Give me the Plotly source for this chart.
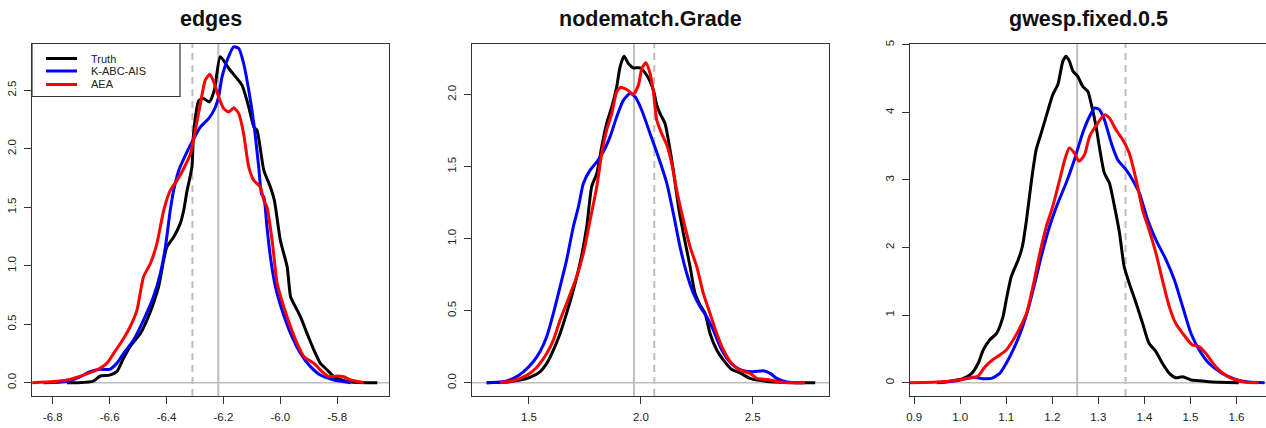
import plotly.graph_objects as go

W, H = 1266, 428

titles = ["edges", "nodematch.Grade", "gwesp.fixed.0.5"]
series_names = ["Truth", "K-ABC-AIS", "AEA"]
series_colors = ["#000000", "#0000FF", "#FF0000"]

# ---------- panel 1: edges ----------
edges_truth_x = [-6.75, -6.71, -6.657, -6.633, -6.6, -6.575, -6.551, -6.528, -6.492, -6.469, -6.446, -6.428, -6.41, -6.399,
                 -6.375, -6.352, -6.34, -6.328, -6.311, -6.305, -6.287, -6.27, -6.25, -6.232, -6.211, -6.181, -6.152, -6.134,
                 -6.111, -6.093, -6.082, -6.058, -6.035, -6.021, -6.0, -5.976, -5.964, -5.953, -5.929, -5.906, -5.882,
                 -5.859, -5.835, -5.812, -5.765, -5.694, -5.659]
edges_truth_y = [0.0, 0.0, 0.014, 0.057, 0.065, 0.094, 0.21, 0.31, 0.42, 0.535, 0.68, 0.82, 1.05, 1.16,
                 1.245, 1.36, 1.47, 1.64, 1.84, 2.13, 2.41, 2.43, 2.40, 2.50, 2.786, 2.686, 2.60, 2.54,
                 2.357, 2.186, 2.157, 1.815, 1.673, 1.559, 1.218, 0.99, 0.734, 0.677, 0.563, 0.42, 0.279,
                 0.165, 0.108, 0.051, 0.01, 0.0, 0.0]

edges_kabc_x = [-6.833, -6.751, -6.704, -6.669, -6.633, -6.6, -6.575, -6.551, -6.516, -6.481, -6.446, -6.422, -6.404,
                -6.387, -6.375, -6.357, -6.334, -6.311, -6.281, -6.252, -6.228, -6.217, -6.205, -6.187, -6.164, -6.146,
                -6.129, -6.111, -6.093, -6.076, -6.066, -6.058, -6.047, -6.035, -6.017, -5.994, -5.964, -5.929, -5.894,
                -5.859, -5.812, -5.753]
edges_kabc_y = [0.0, 0.009, 0.05, 0.094, 0.114, 0.114, 0.165, 0.25, 0.364, 0.535, 0.734, 0.933, 1.161,
                1.474, 1.644, 1.815, 1.943, 2.057, 2.186, 2.257, 2.357, 2.443, 2.614, 2.757, 2.871, 2.857,
                2.729, 2.5, 2.214, 1.843, 1.614, 1.587, 1.331, 1.075, 0.819, 0.62, 0.421, 0.25, 0.137,
                0.065, 0.023, 0.0]

edges_aea_x = [-6.872, -6.798, -6.751, -6.692, -6.645, -6.61, -6.586, -6.551, -6.528, -6.504, -6.481, -6.457, -6.434,
               -6.41, -6.387, -6.363, -6.34, -6.316, -6.299, -6.281, -6.264, -6.248, -6.234, -6.217, -6.199, -6.181,
               -6.164, -6.146, -6.129, -6.111, -6.093, -6.07, -6.058, -6.047, -6.029, -6.011, -5.988, -5.964, -5.941,
               -5.917, -5.882, -5.859, -5.829, -5.8, -5.777, -5.753, -5.706]
edges_aea_y = [0.0, 0.009, 0.023, 0.065, 0.108, 0.165, 0.25, 0.378, 0.478, 0.62, 0.905, 1.018, 1.189,
               1.474, 1.644, 1.73, 1.829, 1.957, 2.157, 2.386, 2.586, 2.637, 2.571, 2.443, 2.343, 2.314,
               2.351, 2.3, 2.129, 1.843, 1.729, 1.671, 1.557, 1.502, 1.218, 0.848, 0.649, 0.478, 0.336,
               0.222, 0.165, 0.108, 0.051, 0.057, 0.051, 0.023, 0.0]

# ---------- panel 2: nodematch.Grade ----------
grade_truth_x = [1.311, 1.4, 1.46, 1.504, 1.549, 1.579, 1.609, 1.639, 1.668, 1.698, 1.728, 1.758, 1.78, 1.803, 1.825,
                 1.847, 1.87, 1.892, 1.907, 1.925, 1.944, 1.966, 1.996, 2.026, 2.056, 2.071, 2.086, 2.108, 2.123,
                 2.145, 2.168, 2.19, 2.22, 2.242, 2.265, 2.287, 2.309, 2.339, 2.369, 2.406, 2.443, 2.488, 2.563,
                 2.652, 2.779]
grade_truth_y = [0.0, 0.005, 0.018, 0.037, 0.076, 0.134, 0.227, 0.342, 0.481, 0.643, 0.828, 1.082, 1.36, 1.452, 1.637,
                 1.799, 1.914, 2.053, 2.192, 2.266, 2.215, 2.185, 2.185, 2.134, 2.03, 1.926, 1.868, 1.799, 1.683,
                 1.475, 1.221, 1.036, 0.805, 0.62, 0.539, 0.481, 0.342, 0.227, 0.157, 0.092, 0.069, 0.03, 0.009,
                 0.002, 0.0]

grade_kabc_x = [1.311, 1.385, 1.43, 1.475, 1.519, 1.549, 1.579, 1.609, 1.639, 1.668, 1.698, 1.721, 1.743, 1.773, 1.803,
                1.832, 1.862, 1.892, 1.922, 1.952, 1.974, 2.004, 2.041, 2.078, 2.116, 2.145, 2.175, 2.205, 2.235,
                2.265, 2.294, 2.324, 2.354, 2.384, 2.421, 2.458, 2.503, 2.548, 2.578, 2.607, 2.652, 2.727]
grade_kabc_y = [0.0, 0.007, 0.03, 0.076, 0.146, 0.215, 0.319, 0.481, 0.666, 0.851, 1.082, 1.221, 1.383, 1.475, 1.533,
                1.602, 1.706, 1.845, 1.961, 2.007, 1.984, 1.891, 1.729, 1.568, 1.383, 1.175, 0.943, 0.758, 0.62,
                0.527, 0.458, 0.365, 0.25, 0.169, 0.111, 0.083, 0.076, 0.083, 0.065, 0.03, 0.005, 0.0]

grade_aea_x = [1.37, 1.43, 1.49, 1.534, 1.579, 1.609, 1.639, 1.668, 1.713, 1.743, 1.773, 1.803, 1.825, 1.847, 1.87,
               1.892, 1.91, 1.937, 1.966, 1.989, 2.004, 2.022, 2.041, 2.056, 2.071, 2.093, 2.116, 2.138, 2.16,
               2.19, 2.22, 2.25, 2.279, 2.309, 2.339, 2.369, 2.406, 2.443, 2.488, 2.518, 2.563, 2.607, 2.652, 2.734]
grade_aea_y = [0.0, 0.014, 0.051, 0.106, 0.203, 0.296, 0.435, 0.55, 0.735, 0.897, 1.128, 1.36, 1.591, 1.753, 1.868,
               2.018, 2.049, 2.035, 2.002, 2.065, 2.18, 2.22, 2.146, 2.018, 1.822, 1.729, 1.649, 1.521, 1.336,
               1.128, 0.943, 0.805, 0.62, 0.481, 0.342, 0.227, 0.134, 0.088, 0.065, 0.03, 0.023, 0.009, 0.0, 0.0]

# ---------- panel 3: gwesp.fixed.0.5 ----------
gwesp_truth_x = [0.956, 0.985, 1.007, 1.025, 1.039, 1.05, 1.064, 1.079, 1.093, 1.1, 1.111, 1.126, 1.135, 1.144, 1.155,
                 1.165, 1.176, 1.191, 1.201, 1.212, 1.223, 1.23, 1.237, 1.245, 1.255, 1.266, 1.277, 1.284, 1.295,
                 1.302, 1.313, 1.324, 1.335, 1.346, 1.356, 1.367, 1.382, 1.396, 1.41, 1.425, 1.439, 1.454, 1.468,
                 1.483, 1.501, 1.519, 1.54, 1.605]
gwesp_truth_y = [0.0, 0.03, 0.064, 0.138, 0.287, 0.484, 0.632, 0.731, 0.978, 1.225, 1.571, 1.818, 2.016, 2.411, 3.004,
                 3.449, 3.696, 4.041, 4.264, 4.412, 4.758, 4.832, 4.758, 4.61, 4.536, 4.387, 4.313, 4.14, 3.794,
                 3.498, 3.103, 2.955, 2.609, 2.213, 1.719, 1.472, 1.176, 0.879, 0.583, 0.459, 0.287, 0.138, 0.074,
                 0.089, 0.04, 0.03, 0.015, 0.0]

gwesp_kabc_x = [0.949, 0.992, 1.028, 1.05, 1.068, 1.086, 1.1, 1.115, 1.133, 1.147, 1.162, 1.176, 1.194, 1.212, 1.23,
                1.248, 1.266, 1.281, 1.292, 1.302, 1.313, 1.328, 1.342, 1.36, 1.374, 1.389, 1.407, 1.425, 1.447,
                1.465, 1.483, 1.501, 1.519, 1.54, 1.569, 1.598, 1.627, 1.661]
gwesp_kabc_y = [0.0, 0.03, 0.079, 0.059, 0.064, 0.138, 0.287, 0.484, 0.781, 1.077, 1.472, 1.868, 2.312, 2.658, 2.955,
                3.3, 3.696, 3.943, 4.066, 4.041, 3.893, 3.547, 3.3, 3.152, 3.004, 2.806, 2.411, 2.115, 1.818,
                1.522, 1.126, 0.731, 0.484, 0.287, 0.138, 0.049, 0.01, 0.0]

gwesp_aea_x = [0.891, 0.949, 0.985, 1.021, 1.039, 1.054, 1.072, 1.086, 1.1, 1.115, 1.129, 1.144, 1.158, 1.173, 1.187,
               1.201, 1.216, 1.227, 1.237, 1.248, 1.258, 1.27, 1.281, 1.299, 1.313, 1.324, 1.338, 1.353, 1.367,
               1.382, 1.396, 1.41, 1.425, 1.439, 1.454, 1.468, 1.483, 1.504, 1.519, 1.533, 1.555, 1.576, 1.598,
               1.62, 1.648]
gwesp_aea_y = [0.0, 0.01, 0.03, 0.069, 0.099, 0.237, 0.346, 0.41, 0.484, 0.632, 0.805, 1.028, 1.423, 1.917, 2.312,
               2.609, 3.004, 3.3, 3.473, 3.399, 3.276, 3.375, 3.646, 3.844, 3.967, 3.918, 3.745, 3.597, 3.399,
               3.004, 2.559, 2.263, 1.917, 1.522, 1.126, 0.879, 0.731, 0.558, 0.534, 0.435, 0.237, 0.114, 0.04,
               0.005, 0.0]

# reference lines (solid = truth value, dashed = estimate)
solid_lines = [-6.218, 1.969, 1.254]
dashed_lines = [-6.309, 2.060, 1.359]

# ticks
x_ticks = [[-6.8, -6.6, -6.4, -6.2, -6.0, -5.8], [1.5, 2.0, 2.5], [0.9, 1.0, 1.1, 1.2, 1.3, 1.4, 1.5, 1.6]]
x_ticktext = [["-6.8", "-6.6", "-6.4", "-6.2", "-6.0", "-5.8"], ["1.5", "2.0", "2.5"],
              ["0.9", "1.0", "1.1", "1.2", "1.3", "1.4", "1.5", "1.6"]]
y_ticks = [[0, 0.5, 1.0, 1.5, 2.0, 2.5], [0, 0.5, 1.0, 1.5, 2.0], [0, 1, 2, 3, 4, 5]]
y_ticktext = [["0.0", "0.5", "1.0", "1.5", "2.0", "2.5"], ["0.0", "0.5", "1.0", "1.5", "2.0"],
              ["0", "1", "2", "3", "4", "5"]]

x_ranges = [[-6.873, -5.618], [1.244, 2.842], [0.891, 1.664]]
y_ranges = [[-0.114, 2.90], [-0.092, 2.354], [-0.197, 5.02]]

panels = [
    [(edges_truth_x, edges_truth_y), (edges_kabc_x, edges_kabc_y), (edges_aea_x, edges_aea_y)],
    [(grade_truth_x, grade_truth_y), (grade_kabc_x, grade_kabc_y), (grade_aea_x, grade_aea_y)],
    [(gwesp_truth_x, gwesp_truth_y), (gwesp_kabc_x, gwesp_kabc_y), (gwesp_aea_x, gwesp_aea_y)],
]

# pixel layout of plot boxes (reference pixels)
box_left = [32, 471.7, 910]
box_right = [389, 829.3, 1266]
box_top, box_bottom = 43.5, 396


def px(v):
    return v / W


def py(v):
    return 1 - v / H


fig = go.Figure()
font_family = "Liberation Sans, Arial, sans-serif"
gray = "#BEBEBE"

for i in range(3):
    xa = "x" if i == 0 else f"x{i+1}"
    ya = "y" if i == 0 else f"y{i+1}"
    fig.add_trace(go.Scatter(x=x_ranges[i], y=[0, 0], xaxis=xa, yaxis=ya, mode="lines",
                             line=dict(color=gray, width=1.5), showlegend=False, hoverinfo="skip"))
    fig.add_trace(go.Scatter(x=[solid_lines[i], solid_lines[i]], y=y_ranges[i], xaxis=xa, yaxis=ya, mode="lines",
                             line=dict(color=gray, width=2), showlegend=False, hoverinfo="skip"))
    fig.add_trace(go.Scatter(x=[dashed_lines[i], dashed_lines[i]], y=y_ranges[i], xaxis=xa, yaxis=ya, mode="lines",
                             line=dict(color=gray, width=2, dash="7px,5px"), showlegend=False, hoverinfo="skip"))
    for j, (xs, ys) in enumerate(panels[i]):
        fig.add_trace(go.Scatter(x=xs, y=ys, xaxis=xa, yaxis=ya, mode="lines", name=series_names[j],
                                 line=dict(color=series_colors[j], width=3, shape="spline", smoothing=0.6),
                                 showlegend=False))

layout = dict(width=W, height=H, margin=dict(l=0, r=0, t=0, b=0, autoexpand=False), paper_bgcolor="white",
              plot_bgcolor="white", font=dict(family=font_family, color="#222222"), showlegend=False)

for i in range(3):
    xk = "xaxis" if i == 0 else f"xaxis{i+1}"
    yk = "yaxis" if i == 0 else f"yaxis{i+1}"
    ya = "y" if i == 0 else f"y{i+1}"
    xa = "x" if i == 0 else f"x{i+1}"
    common = dict(showline=True, linecolor="#333333", linewidth=1.2, mirror=True, ticks="outside", ticklen=7,
                  tickcolor="#333333", showgrid=False, zeroline=False, tickfont=dict(size=11.5, color="#222222"),
                  ticklabelstandoff=3, automargin=False)
    layout[xk] = dict(domain=[px(box_left[i]), min(1.0, px(box_right[i]))], range=x_ranges[i], anchor=ya,
                      tickvals=x_ticks[i], ticktext=x_ticktext[i], **common)
    layout[yk] = dict(domain=[py(box_bottom), py(box_top)], range=y_ranges[i], anchor=xa,
                      tickvals=y_ticks[i], ticktext=y_ticktext[i], tickangle=-90, **common)

fig.update_layout(**layout)

# titles
for i in range(3):
    fig.add_annotation(text="<b>" + titles[i] + "</b>", xref="paper", yref="paper",
                       x=px((box_left[i] + box_right[i]) / 2), y=py(19), xanchor="center", yanchor="middle",
                       showarrow=False, font=dict(size=21.5, color="#111111", family=font_family))

# legend (manual, top-left of first panel)
leg_l, leg_r, leg_t, leg_b = 32, 180, 43.5, 96.5
fig.add_shape(type="rect", xref="paper", yref="paper", x0=px(leg_l), x1=px(leg_r),
              y0=py(leg_b), y1=py(leg_t), line=dict(color="#333333", width=1.2), fillcolor="white")
row_y = [58.5, 71, 84.5]
for j in range(3):
    fig.add_shape(type="line", xref="paper", yref="paper", x0=px(46), x1=px(77),
                  y0=py(row_y[j]), y1=py(row_y[j]), line=dict(color=series_colors[j], width=3))
    fig.add_annotation(text=series_names[j], xref="paper", yref="paper", x=px(89), y=py(row_y[j]),
                       xanchor="left", yanchor="middle", showarrow=False,
                       font=dict(size=11, color="#222222", family=font_family))

# remove the browser's default 8px body margin so the figure sits at the page origin
fig.write_html("out.html", config={"displayModeBar": False},
               post_script="document.body.style.margin='0px';")
